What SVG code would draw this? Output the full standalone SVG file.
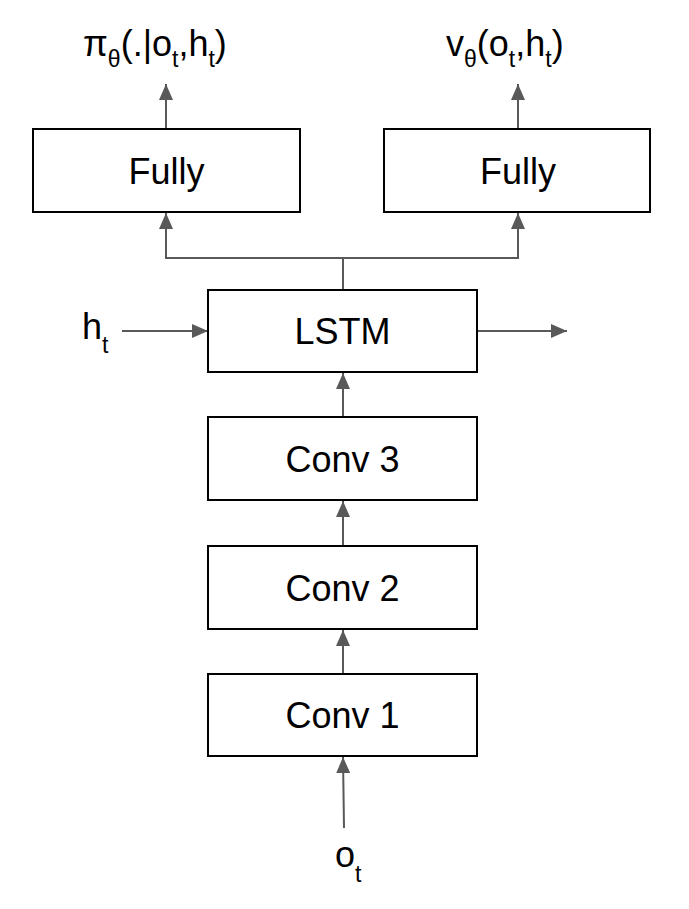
<svg xmlns="http://www.w3.org/2000/svg" width="689" height="909" viewBox="0 0 689 909">
<style>
.box{fill:#ffffff;stroke:#000000;stroke-width:2}
.lbl{font-family:"Liberation Sans",Arial,sans-serif;font-size:36px;fill:#000000;text-anchor:middle}
.ext{font-family:"Liberation Sans",Arial,sans-serif;font-size:36px;fill:#000000}
.sub{font-size:23px}
.edge{fill:none;stroke:#595959;stroke-width:2}
</style>
<defs>
<marker id="arr" markerWidth="16" markerHeight="14" refX="16" refY="7" orient="auto" markerUnits="userSpaceOnUse">
<path d="M0,0 L16,7 L0,14 Z" fill="#595959"/>
</marker>
</defs>
<rect width="689" height="909" fill="#ffffff"/>
<g id="edges">
<path class="edge" d="M344,828 L343,757" marker-end="url(#arr)"/>
<path class="edge" d="M343,674 L343,630" marker-end="url(#arr)"/>
<path class="edge" d="M343,546 L343,501" marker-end="url(#arr)"/>
<path class="edge" d="M343,417 L343,373" marker-end="url(#arr)"/>
<path class="edge" d="M343,290 L343,258"/>
<path class="edge" d="M343,258 L166,258 L166,213" marker-end="url(#arr)"/>
<path class="edge" d="M343,258 L518,258 L518,213" marker-end="url(#arr)"/>
<path class="edge" d="M166,129 L166,84" marker-end="url(#arr)"/>
<path class="edge" d="M518,129 L518,84" marker-end="url(#arr)"/>
<path class="edge" d="M122,331 L208,331" marker-end="url(#arr)"/>
<path class="edge" d="M477,331 L567,331" marker-end="url(#arr)"/>
</g>
<g id="fully-policy">
<rect class="box" x="33" y="129" width="267" height="83"/>
<text class="lbl" x="166.5" y="184">Fully</text>
</g>
<g id="fully-value">
<rect class="box" x="384" y="129" width="266" height="83"/>
<text class="lbl" x="518" y="184">Fully</text>
</g>
<g id="lstm">
<rect class="box" x="208" y="290" width="269" height="82"/>
<text class="lbl" x="342.5" y="344">LSTM</text>
</g>
<g id="conv3">
<rect class="box" x="208" y="417" width="269" height="83"/>
<text class="lbl" x="342.5" y="472">Conv 3</text>
</g>
<g id="conv2">
<rect class="box" x="208" y="546" width="269" height="83"/>
<text class="lbl" x="342.5" y="601">Conv 2</text>
</g>
<g id="conv1">
<rect class="box" x="208" y="674" width="269" height="82"/>
<text class="lbl" x="342.5" y="728">Conv 1</text>
</g>
<g id="policy-output">
<text class="ext" x="83" y="56">π<tspan class="sub" dy="11">θ</tspan><tspan dy="-11">(.|o</tspan><tspan class="sub" dy="11">t</tspan><tspan dy="-11">,h</tspan><tspan class="sub" dy="11">t</tspan><tspan dy="-11">)</tspan></text>
</g>
<g id="value-output">
<text class="ext" x="446" y="56">v<tspan class="sub" dy="11">θ</tspan><tspan dy="-11">(o</tspan><tspan class="sub" dy="11">t</tspan><tspan dy="-11">,h</tspan><tspan class="sub" dy="11">t</tspan><tspan dy="-11">)</tspan></text>
</g>
<g id="h-input">
<text class="ext" x="82" y="339">h<tspan class="sub" dy="14">t</tspan></text>
</g>
<g id="o-input">
<text class="ext" x="335" y="867">o<tspan class="sub" dy="15">t</tspan></text>
</g>
</svg>
